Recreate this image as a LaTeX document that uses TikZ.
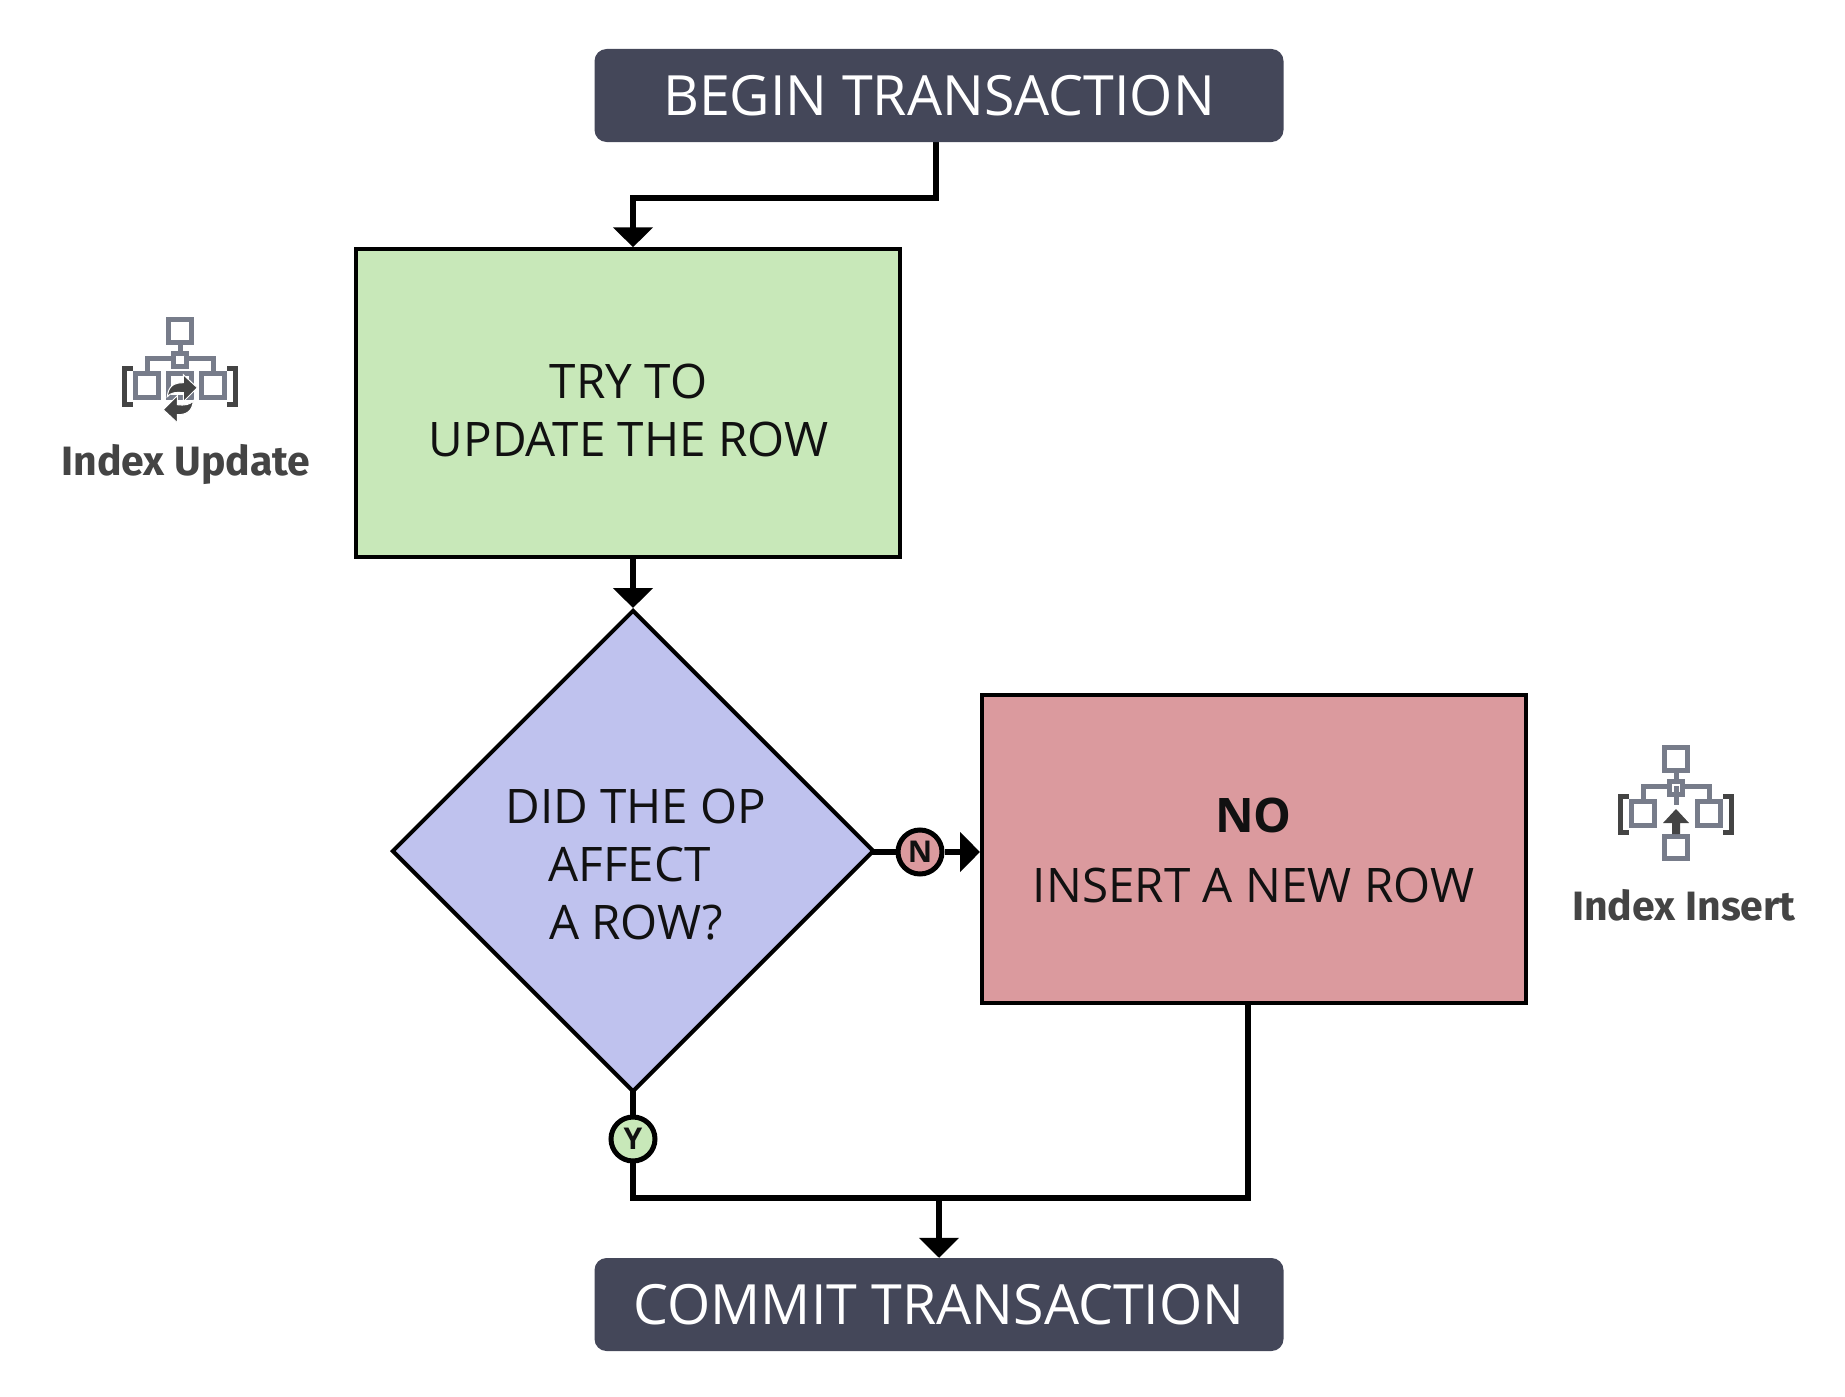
\documentclass[tikz,border=0pt]{standalone}
\usepackage{fontspec}
\setmainfont{Open Sans}
\newfontfamily\labelfont{Fira Sans}
\usetikzlibrary{positioning,shapes.geometric,arrows.meta,calc,backgrounds}
\definecolor{slate}{HTML}{444759}
\definecolor{leaf}{HTML}{C8E8B9}
\definecolor{lavender}{HTML}{BFC2EE}
\definecolor{rose}{HTML}{DB9A9E}
\definecolor{iconblue}{HTML}{777C8A}
\definecolor{icondark}{HTML}{444444}
\definecolor{inktext}{HTML}{111111}
\tikzset{
  endbox/.style={fill=slate, rounded corners=12pt, minimum width=689pt, minimum height=93pt,
    text=white, inner sep=0pt, font=\fontsize{55.5}{66}\selectfont},
  stepbox/.style={draw=black, line width=4pt, minimum width=544pt, minimum height=307.5pt, inner sep=0pt},
  askbox/.style={stepbox, diamond, aspect=1, minimum width=482pt, minimum height=482pt},
  steptext/.style={text=inktext, align=center, inner sep=0pt, font=\fontsize{47.6}{58}\selectfont},
  badge/.style={circle, draw=black, line width=5pt, minimum size=44pt, inner sep=0pt,
    text=inktext, text height=21.4pt, text depth=0pt, font=\fontsize{30}{30}\selectfont\bfseries},
  flow/.style={draw=black, line width=6pt, -{Triangle[width=39pt,length=20pt]}},
  flowplain/.style={draw=black, line width=6pt},
  iconlabel/.style={text=icondark, font=\labelfont\fontsize{41}{46}\selectfont\bfseries},
  iconbox/.style={draw=iconblue, line width=5pt, fill=white},
  iconline/.style={draw=iconblue, line width=5pt},
  iconbracket/.style={draw=icondark, line width=5pt},
  % index tree, origin in the middle of the top square
  indexicon/.pic={
    \draw[iconline] (-33,42) -- (-33,27) -- (33,27) -- (33,42);
    \draw[iconline] (0,14) -- (0,27);
    \draw[iconbox] (-11.5,-11.5) rectangle (11.5,11.5);
    \draw[iconbox] (-6.5,22.5) rectangle (6.5,35.5);
    \draw[iconbox] (-44.5,42.5) rectangle (-21.5,66.5);
    \draw[iconbox] (21.5,42.5) rectangle (44.5,66.5);
    \draw[iconbracket] (-47,37.5) -- (-55.5,37.5) -- (-55.5,73.5) -- (-47,73.5);
    \draw[iconbracket] (47,37.5) -- (55.5,37.5) -- (55.5,73.5) -- (47,73.5);
  },
  swaparrow/.pic={
    \fill[icondark, draw=white, line width=1pt] (-13,-2) .. controls (-12,-13) and (-6,-16) .. (3,-16)
      -- (3,-24) -- (17,-11) -- (3,3) -- (3,-6) .. controls (-4,-7) and (-10,-6) .. cycle;
  },
}

\begin{document}
\begin{tikzpicture}[x=1pt,y=-1pt]
  \useasboundingbox (0,0) rectangle (1845,1397);

  \node[endbox] (begin) at (939,95.5) {BEGIN TRANSACTION};
  \node[stepbox, fill=leaf] (update) at (628,403) {};
  \node[askbox, fill=lavender] (decide) at (633,851) {};
  \node[stepbox, fill=rose] (insert) at (1254,849) {};
  \node[endbox] (commit) at (939,1304.5) {COMMIT TRANSACTION};

  \node[steptext] (updatetext) at (628.5,410) {TRY TO\\UPDATE THE ROW};
  \node[steptext] (decidetext) at (636,865) {DID THE OP\\\mbox{AFFECT\hspace{13pt}}\\A ROW?};
  \node[steptext] (inserttext) at (1253.5,850) {\textbf{NO}\\[12pt]INSERT A NEW ROW};

  \node[badge, fill=rose] (nobadge) at (920,852) {N};
  \node[badge, fill=leaf] (yesbadge) at (633,1139) {Y};

  \coordinate (beginout) at (936,141);
  \coordinate (merge) at (939,1198);
  \coordinate (joinright) at (1248,1198);

  % connectors go behind the shapes
  \begin{scope}[on background layer]
    \draw[flow] (beginout) -- ++(0,57) -| (decide.north |- update.north);
    \draw[flow] (decide.north |- update.south) -- (decide.north);
    \draw[flowplain] (decide.center) |- (joinright) -- (joinright |- insert.center);
    \draw[flow] (merge) -- (commit.north);
    \draw[flowplain] (decide.center |- nobadge.center) -- (nobadge.center);
    \draw[flow] (nobadge.east) -- (nobadge -| insert.west);
  \end{scope}

  % index icons
  \pic at (180,331) {indexicon};
  \draw[iconbox] (168.5,373.5) rectangle (191.5,397.5);
  \pic at (180.3,398.7) {swaparrow};
  \pic[rotate=180] at (180.3,398.7) {swaparrow};
  \node[iconlabel] (updatelabel) at (186,464) {Index Update};

  \pic at (1676,759) {indexicon};
  \draw[iconline] (1676,786) -- (1676,805);
  \draw[iconbox] (1664.5,836.5) rectangle (1687.5,858.5);
  \fill[icondark] (1676,809) -- (1689,823) -- (1680,823) -- (1680,834) -- (1672,834) -- (1672,823) -- (1663,823) -- cycle;
  \node[iconlabel] (insertlabel) at (1684,905) {Index Insert};
\end{tikzpicture}
\end{document}
